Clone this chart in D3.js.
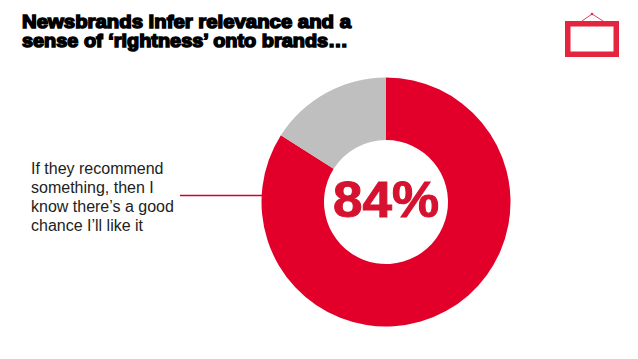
<!DOCTYPE html>
<html><head><meta charset="utf-8">
<script src="https://cdn.jsdelivr.net/npm/d3@7/dist/d3.min.js"></script>
<style>html,body{margin:0;padding:0;background:#fff}svg{display:block}</style>
</head><body><svg id="c" width="638" height="359"></svg>
<script>
const categories = ["Agree", "Other"];
const values = [84, 16];
const sliceColors = ["#e2002b", "#bfbfbf"];
const titleLines = ["Newsbrands infer relevance and a", "sense of \u2018rightness\u2019 onto brands\u2026"];
const calloutLines = ["If they recommend", "something, then I", "know there\u2019s a good", "chance I\u2019ll like it"];
const centerLabel = "84%";

const svg = d3.select("#c");
const cx = 386, cy = 202;
const pie = d3.pie().sort(null).value(d => d)(values);
const arc = d3.arc().innerRadius(62).outerRadius(124.5);
svg.append("g").attr("transform", `translate(${cx},${cy})`)
  .selectAll("path").data(pie).join("path")
  .attr("d", arc).attr("fill", (d, i) => sliceColors[i]);

svg.append("g").selectAll("text").data(titleLines).join("text")
  .attr("x", 22).attr("y", (d, i) => 27.5 + i * 19)
  .attr("font-family", "Liberation Sans").attr("font-weight", 700).attr("font-size", 19)
  .attr("fill", "#000").attr("stroke", "#000").attr("stroke-width", 1.5)
  .attr("textLength", (d, i) => i ? 326 : 329).attr("lengthAdjust", "spacingAndGlyphs")
  .text(d => d);

svg.append("g").selectAll("text").data(calloutLines).join("text")
  .attr("x", 31).attr("y", (d, i) => 174 + i * 19)
  .attr("font-family", "Liberation Sans").attr("font-size", 16).attr("fill", "#222")
  .text(d => d);

svg.append("line").attr("x1", 180).attr("x2", 264).attr("y1", 195.5).attr("y2", 195.5)
  .attr("stroke", "#d4002a").attr("stroke-width", 1.6);

svg.append("text").attr("x", 333).attr("y", 216.5)
  .attr("font-family", "Liberation Sans").attr("font-weight", 700).attr("font-size", 50)
  .attr("fill", "#d5122f").attr("stroke", "#d5122f").attr("stroke-width", 1)
  .attr("textLength", 106).attr("lengthAdjust", "spacingAndGlyphs").text(centerLabel);

const icon = svg.append("g");
icon.append("rect").attr("x", 567.75).attr("y", 23.75).attr("width", 48.5).attr("height", 30.5)
  .attr("fill", "#fff").attr("stroke", "#e3253f").attr("stroke-width", 5.5);
icon.append("polyline").attr("points", "582,21 592,14 603,21")
  .attr("fill", "none").attr("stroke", "#d9485c").attr("stroke-width", 1);
icon.append("circle").attr("cx", 592).attr("cy", 14).attr("r", 1.3).attr("fill", "#d9304a");
</script></body></html>
